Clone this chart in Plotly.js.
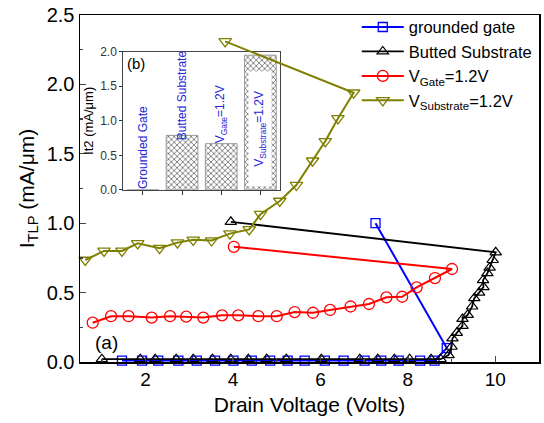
<!DOCTYPE html>
<html>
<head>
<meta charset="utf-8">
<script src="https://cdn.plot.ly/plotly-3.0.1.min.js"></script>
<style>html,body{margin:0;padding:0;background:#fff;}#chart{width:544px;height:423px;}</style>
</head>
<body>
<div id="chart"></div>
<script>
// ---- Main panel (a) data ----
const groundedX = [1.46,1.92,2.29,2.75,3.17,3.59,4.01,4.43,4.85,5.25,5.64,6.10,6.53,7.01,7.39,7.79,8.28,8.61,8.89,7.26];
const groundedY = [0.01,0.01,0.01,0.01,0.01,0.01,0.01,0.01,0.01,0.01,0.01,0.01,0.01,0.01,0.01,0.01,0.01,0.01,0.10,1.00];

const buttedX = [1.00,1.88,2.22,2.70,3.09,3.53,3.95,4.35,4.77,5.22,6.02,6.90,7.31,7.69,8.04,8.53,8.75,8.93,9.00,9.02,9.12,9.25,9.25,9.37,9.47,9.52,9.63,9.73,9.72,9.82,9.87,9.94,10.01,3.95];
const buttedY = [0.02,0.02,0.02,0.02,0.02,0.02,0.02,0.02,0.02,0.02,0.02,0.02,0.02,0.02,0.02,0.02,0.02,0.05,0.11,0.17,0.21,0.26,0.31,0.34,0.40,0.46,0.50,0.54,0.59,0.64,0.68,0.735,0.79,1.01];

const vgateX = [0.79,1.21,1.61,2.14,2.56,2.93,3.32,3.75,4.12,4.58,5.00,5.41,5.83,6.22,6.69,7.11,7.51,7.87,8.20,8.62,9.01,4.02];
const vgateY = [0.283,0.33,0.33,0.32,0.33,0.327,0.32,0.336,0.336,0.33,0.33,0.36,0.355,0.375,0.40,0.418,0.466,0.47,0.538,0.605,0.67,0.83];

const vsubX = [0.62,1.05,1.46,1.82,2.32,2.73,3.09,3.51,3.93,4.37,4.63,5.07,5.45,5.82,6.11,6.40,6.76,3.82];
const vsubY = [0.735,0.80,0.80,0.855,0.82,0.86,0.88,0.875,0.925,0.955,1.065,1.16,1.275,1.45,1.59,1.755,1.94,2.31];

const seriesNames = ['grounded gate','Butted Substrate','V<sub>Gate</sub>=1.2V','V<sub>Substrate</sub>=1.2V'];

// ---- Inset panel (b) data ----
const insetCats = ['Grounded Gate','Butted Substrate','VGate','VSubstrate'];
const insetLabels = ['Grounded Gate','Butted Substrate','V<sub>Gate</sub>=1.2V','V<sub>Substrate</sub>=1.2V'];
const insetIt2 = [0, 0.79, 0.67, 1.95];
const insetLabelY = [0.62, 1.37, 1.10, 0.89];

const FONT = 'Arial, "Liberation Sans", sans-serif';

const traces = [
  {
    type:'bar', x: insetCats, y: insetIt2, xaxis:'x', yaxis:'y', width:0.81,
    showlegend:false, hoverinfo:'skip',
    marker:{color:'white', line:{color:'#9a9a9a', width:1},
      pattern:{shape:'x', fgcolor:'#7a7a7a', bgcolor:'white', size:4, solidity:0.4}}
  },
  {
    type:'scatter', mode:'lines+markers', name: seriesNames[0], x: groundedX, y: groundedY,
    xaxis:'x2', yaxis:'y2', cliponaxis:false,
    line:{color:'#0000ff', width:2},
    marker:{symbol:'square-open', size:9, color:'#0000ff', line:{width:1.3}}
  },
  {
    type:'scatter', mode:'lines+markers', name: seriesNames[1], x: buttedX, y: buttedY,
    xaxis:'x2', yaxis:'y2', cliponaxis:false,
    line:{color:'#000000', width:1.8},
    marker:{symbol:'triangle-up-open', size:10, color:'#000000', line:{width:1.2}}
  },
  {
    type:'scatter', mode:'lines+markers', name: seriesNames[2], x: vgateX, y: vgateY,
    xaxis:'x2', yaxis:'y2', cliponaxis:false,
    line:{color:'#ff0000', width:2},
    marker:{symbol:'circle-open', size:11, color:'#ff0000', line:{width:1.3}}
  },
  {
    type:'scatter', mode:'lines+markers', name: seriesNames[3], x: vsubX, y: vsubY,
    xaxis:'x2', yaxis:'y2', cliponaxis:false,
    line:{color:'#808000', width:2},
    marker:{symbol:'triangle-down-open', size:11, color:'#808000', line:{width:1.3}}
  }
];

const annotations = insetLabels.map((t,i)=>{
  const a = {
    text:t, xref:'x', yref:'y', x:i, y:insetLabelY[i], showarrow:false, textangle:-90,
    font:{family:FONT, size:12, color:'#2424d8'}
  };
  if(i===3){ a.bgcolor='white'; a.width=110; a.height=18; a.borderpad=2; }
  return a;
});
annotations.push({text:'(b)', xref:'x', yref:'y', x:-0.17, y:1.83, showarrow:false,
  font:{family:FONT, size:15, color:'#000'}});
annotations.push({text:'(a)', xref:'x2', yref:'y2', x:1.11, y:0.14, showarrow:false,
  font:{family:FONT, size:19, color:'#000'}});

const layout = {
  width:544, height:423,
  margin:{l:80, r:5, t:15, b:61, autoexpand:false},
  paper_bgcolor:'white', plot_bgcolor:'rgba(0,0,0,0)',
  font:{family:FONT, color:'#000'},
  showlegend:true,
  legend:{x:0.603, y:1.015, xanchor:'left', yanchor:'top', bgcolor:'rgba(0,0,0,0)',
    font:{family:FONT, size:16.5}, tracegroupgap:0, itemwidth:42},
  xaxis2:{domain:[0,1], anchor:'y2', range:[0.5,11], tick0:0, dtick:2,
    ticks:'inside', ticklen:6, tickwidth:1.3, minor:{ticks:'inside', dtick:1, ticklen:3},
    showline:true, mirror:true, linewidth:1.5, linecolor:'#000', showgrid:false, zeroline:false,
    tickfont:{family:FONT, size:19},
    title:{text:'Drain Voltage (Volts)', font:{family:FONT, size:21}, standoff:8}},
  yaxis2:{domain:[0,1], anchor:'x2', range:[0,2.5], dtick:0.5, tickformat:'.1f',
    ticks:'inside', ticklen:6, tickwidth:1.3, minor:{ticks:'inside', dtick:0.25, ticklen:3},
    showline:true, mirror:true, linewidth:1.5, linecolor:'#000', showgrid:false, zeroline:false,
    tickfont:{family:FONT, size:20},
    title:{text:'I<sub>TLP</sub> (mA/μm)', font:{family:FONT, size:21}, standoff:6}},
  xaxis:{domain:[0.0943,0.4357], anchor:'y', type:'category', range:[-0.5,3.5],
    showticklabels:false, ticks:'outside', ticklen:4, tickcolor:'#333',
    showline:true, mirror:true, linewidth:1, linecolor:'#444', showgrid:false, zeroline:false},
  yaxis:{domain:[0.4957,0.8942], anchor:'x', range:[0,2.0], dtick:0.5, tickformat:'.1f',
    ticks:'outside', ticklen:3, tickcolor:'#333',
    showline:true, mirror:true, linewidth:1, linecolor:'#444', showgrid:false, zeroline:false,
    tickfont:{family:FONT, size:12, color:'#333'},
    title:{text:'It2 (mA/μm)', font:{family:FONT, size:13}, standoff:3}},
  annotations: annotations
};

Plotly.newPlot('chart', traces, layout, {displayModeBar:false, staticPlot:true});
</script>
</body>
</html>
